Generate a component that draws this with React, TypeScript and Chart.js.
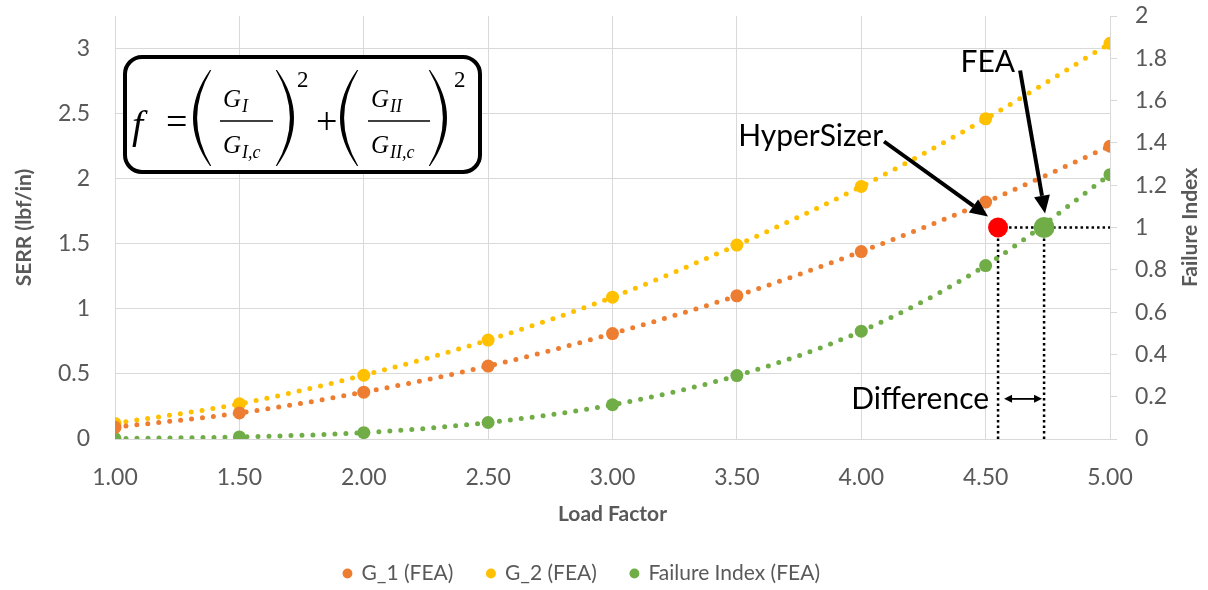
import React, { useEffect, useRef } from 'react';
import { Chart, registerables } from 'chart.js';

Chart.register(...registerables);

// ---- data ----
const loadFactor = [1.0, 1.5, 2.0, 2.5, 3.0, 3.5, 4.0, 4.5, 5.0];
const g1Values = [0.09, 0.2, 0.36, 0.56, 0.81, 1.1, 1.44, 1.82, 2.25];
const g2Values = [0.12, 0.27, 0.49, 0.76, 1.09, 1.49, 1.94, 2.46, 3.04];
const failureValues = [0.002, 0.01, 0.03, 0.078, 0.162, 0.3, 0.51, 0.82, 1.25];
const seriesLabels = ['G_1 (FEA)', 'G_2 (FEA)', 'Failure Index (FEA)'];
const leftTickValues = [0, 0.5, 1, 1.5, 2, 2.5, 3];
const hyperSizerPoint = { x: 4.55, y: 1.0 };
const feaPoint = { x: 4.735, y: 1.0 };
const differenceLevel = 0.19;

const ORANGE = '#ED7D31';
const YELLOW = '#FFC000';
const GREEN = '#70AD47';
const GRAY_TEXT = '#595959';
const GRID = '#D9D9D9';
const FONT = 'Lato';

const pairs = (xs: number[], ys: number[]) => xs.map((x, i) => ({ x, y: ys[i] }));

function arrow(ctx: CanvasRenderingContext2D, x1: number, y1: number, x2: number, y2: number, lw: number, headLen: number, headW: number) {
  const ang = Math.atan2(y2 - y1, x2 - x1);
  const bx = x2 - headLen * Math.cos(ang);
  const by = y2 - headLen * Math.sin(ang);
  ctx.lineWidth = lw;
  ctx.beginPath();
  ctx.moveTo(x1, y1);
  ctx.lineTo(bx, by);
  ctx.stroke();
  ctx.beginPath();
  ctx.moveTo(x2, y2);
  ctx.lineTo(bx + headW * Math.sin(ang), by - headW * Math.cos(ang));
  ctx.lineTo(bx - headW * Math.sin(ang), by + headW * Math.cos(ang));
  ctx.closePath();
  ctx.fill();
}

function paren(ctx: CanvasRenderingContext2D, x0: number, top: number, bot: number, extreme: number) {
  const mid = (top + bot) / 2;
  const cOuter = 2 * extreme - x0;
  const dir = extreme < x0 ? 1 : -1;
  const cInner = cOuter + dir * 7;
  ctx.beginPath();
  ctx.moveTo(x0, top);
  ctx.quadraticCurveTo(cOuter, mid, x0, bot);
  ctx.lineTo(x0 + dir * 1.2, bot);
  ctx.quadraticCurveTo(cInner, mid, x0 + dir * 1.2, top);
  ctx.closePath();
  ctx.fill();
}

function roundRect(ctx: CanvasRenderingContext2D, x: number, y: number, w: number, h: number, r: number) {
  ctx.beginPath();
  ctx.moveTo(x + r, y);
  ctx.lineTo(x + w - r, y);
  ctx.arcTo(x + w, y, x + w, y + r, r);
  ctx.lineTo(x + w, y + h - r);
  ctx.arcTo(x + w, y + h, x + w - r, y + h, r);
  ctx.lineTo(x + r, y + h);
  ctx.arcTo(x, y + h, x, y + h - r, r);
  ctx.lineTo(x, y + r);
  ctx.arcTo(x, y, x + r, y, r);
  ctx.closePath();
}

function drawFormula(ctx: CanvasRenderingContext2D, bx: number, by: number) {
  ctx.save();
  roundRect(ctx, bx, by, 355, 115, 17);
  ctx.fillStyle = '#fff';
  ctx.fill();
  ctx.lineWidth = 4;
  ctx.strokeStyle = '#000';
  ctx.stroke();

  const X = (v: number) => bx + v - 125;
  const Y = (v: number) => by + v - 57;
  ctx.fillStyle = '#000';
  ctx.textAlign = 'left';
  ctx.textBaseline = 'alphabetic';
  const serif = '"Liberation Serif", "DejaVu Serif", serif';

  ctx.font = `italic 40px ${serif}`;
  ctx.fillText('f', X(132), Y(138));
  ctx.font = `38px ${serif}`;
  ctx.fillText('=', X(166), Y(134));
  ctx.fillText('+', X(316), Y(134));

  paren(ctx, X(210), Y(70), Y(166), X(193));
  paren(ctx, X(277), Y(70), Y(166), X(294));
  paren(ctx, X(357), Y(70), Y(166), X(340));
  paren(ctx, X(430), Y(70), Y(166), X(447));

  ctx.lineWidth = 1.6;
  ctx.beginPath();
  ctx.moveTo(X(220), Y(121));
  ctx.lineTo(X(273), Y(121));
  ctx.moveTo(X(368), Y(121));
  ctx.lineTo(X(430), Y(121));
  ctx.stroke();

  const big = `italic 25px ${serif}`;
  const sub = `italic 18px ${serif}`;
  const gsub = (gx: number, gy: number, s: string, sy: number) => {
    ctx.font = big;
    ctx.fillText('G', X(gx), Y(gy));
    const w = ctx.measureText('G').width;
    ctx.font = sub;
    ctx.fillText(s, X(gx) + w + 1, Y(sy));
  };
  gsub(223, 107, 'I', 112);
  gsub(223, 153, 'I,c', 158);
  gsub(371, 107, 'II', 112);
  gsub(371, 153, 'II,c', 158);

  ctx.font = `23px ${serif}`;
  ctx.fillText('2', X(297), Y(87));
  ctx.fillText('2', X(454), Y(87));
  ctx.restore();
}

const annotationPlugin = {
  id: 'annotations',
  afterLayout(chart: any) {
    if (chart.legend) {
      chart.legend.left -= 22;
      chart.legend.right -= 22;
    }
  },
  afterDatasetsDraw(chart: any) {
    const ctx: CanvasRenderingContext2D = chart.ctx;
    const xs = chart.scales.x;
    const y1 = chart.scales.y1;
    const hx = xs.getPixelForValue(hyperSizerPoint.x);
    const hy = y1.getPixelForValue(hyperSizerPoint.y);
    const fx = xs.getPixelForValue(feaPoint.x);
    const fy = y1.getPixelForValue(feaPoint.y);
    ctx.save();
    ctx.fillStyle = '#000';
    ctx.strokeStyle = '#000';
    ctx.lineCap = 'butt';
    arrow(ctx, hx - 114, hy - 86, hx - 10, hy - 11, 4, 18, 8);
    arrow(ctx, fx - 24, fy - 157, fx + 1, fy - 14, 4, 18, 8);
    ctx.font = `30px ${FONT}`;
    ctx.textAlign = 'right';
    ctx.textBaseline = 'alphabetic';
    ctx.fillText('HyperSizer', hx - 115, hy - 82);
    ctx.fillText('FEA', fx - 29, fy - 156);
    const dy = y1.getPixelForValue(differenceLevel);
    arrow(ctx, hx + 12, dy, fx - 2, dy, 1.5, 8, 4);
    arrow(ctx, fx - 6, dy, hx + 6, dy, 1.5, 8, 4);
    ctx.textBaseline = 'middle';
    ctx.fillText('Difference', hx - 9, dy + 1);
    ctx.restore();
  },
  afterDraw(chart: any) {
    const ctx: CanvasRenderingContext2D = chart.ctx;
    const area = chart.chartArea;
    drawFormula(ctx, area.left + 10, area.top + 41);
    const y1 = chart.scales.y1;
    ctx.save();
    ctx.translate(y1.right - 18, (area.top + area.bottom) / 2);
    ctx.rotate(-Math.PI / 2);
    ctx.font = `bold 21px ${FONT}`;
    ctx.fillStyle = GRAY_TEXT;
    ctx.textAlign = 'center';
    ctx.textBaseline = 'middle';
    ctx.fillText('Failure Index', 0, 0);
    ctx.restore();
  },
};

const seriesDataset = (label: string, ys: number[], color: string, axis: string) => ({
  label,
  data: pairs(loadFactor, ys),
  yAxisID: axis,
  showLine: true,
  borderColor: color,
  backgroundColor: color,
  borderWidth: 5,
  borderDash: [0, 11],
  borderCapStyle: 'round' as const,
  cubicInterpolationMode: 'monotone' as const,
  pointRadius: 6.5,
  pointBorderWidth: 0,
  pointBackgroundColor: color,
  pointStyle: 'circle' as const,
  order: 5,
});

const guide = (pts: { x: number; y: number }[]) => ({
  label: 'guide',
  data: pts,
  yAxisID: 'y1',
  showLine: true,
  borderColor: '#000',
  backgroundColor: '#000',
  borderWidth: 2.5,
  borderDash: [2.5, 3],
  pointRadius: 0,
  order: 10,
});

const zeroPad = (s: any) => {
  s.paddingTop = 0;
  s.paddingBottom = 0;
  s.paddingLeft = 0;
  s.paddingRight = 0;
};

export default function App() {
  const ref = useRef<HTMLCanvasElement>(null);
  useEffect(() => {
    const chart = new Chart(ref.current as HTMLCanvasElement, {
      type: 'scatter',
      data: {
        datasets: [
          seriesDataset(seriesLabels[0], g1Values, ORANGE, 'y'),
          seriesDataset(seriesLabels[1], g2Values, YELLOW, 'y'),
          seriesDataset(seriesLabels[2], failureValues, GREEN, 'y1'),
          {
            label: 'HyperSizer',
            data: [hyperSizerPoint],
            yAxisID: 'y1',
            backgroundColor: '#FF0000',
            pointBackgroundColor: '#FF0000',
            pointRadius: 10,
            pointBorderWidth: 0,
            order: 1,
          } as any,
          {
            label: 'FEA',
            data: [feaPoint],
            yAxisID: 'y1',
            backgroundColor: GREEN,
            pointBackgroundColor: GREEN,
            pointRadius: 10.5,
            pointBorderWidth: 0,
            order: 1,
          } as any,
          guide([hyperSizerPoint, { x: 5, y: hyperSizerPoint.y }]),
          guide([{ x: hyperSizerPoint.x, y: 0 }, hyperSizerPoint]),
          guide([{ x: feaPoint.x, y: 0 }, feaPoint]),
        ],
      },
      options: {
        responsive: false,
        animation: false,
        devicePixelRatio: 1,
        layout: { padding: { top: 16, left: 0, right: 0, bottom: -4 } },
        plugins: {
          tooltip: { enabled: false },
          legend: {
            position: 'bottom',
            labels: {
              usePointStyle: true,
              pointStyle: 'circle',
              boxHeight: 7,
              boxWidth: 7,
              padding: 34,
              color: GRAY_TEXT,
              font: { family: FONT, size: 21 },
              generateLabels: (c: any) =>
                Chart.defaults.plugins.legend.labels
                  .generateLabels(c)
                  .filter((l: any) => l.datasetIndex < 3)
                  .map((l: any) => ({ ...l, lineWidth: 0, lineDash: [], fontColor: GRAY_TEXT })),
            },
          },
        },
        scales: {
          x: {
            type: 'linear',
            min: loadFactor[0],
            max: loadFactor[loadFactor.length - 1],
            grid: { color: GRID, lineWidth: 1, drawTicks: false },
            border: { color: GRID },
            ticks: {
              stepSize: 0.5,
              padding: 25,
              color: GRAY_TEXT,
              font: { family: FONT, size: 23 },
              callback: (v: any) => Number(v).toFixed(2),
            },
            title: {
              display: true,
              text: 'Load Factor',
              color: GRAY_TEXT,
              font: { family: FONT, size: 21, weight: 'bold' },
              padding: { top: 0, bottom: 2 },
            },
            afterFit: (s: any) => {
              s.height = 90;
              zeroPad(s);
            },
          },
          y: {
            type: 'linear',
            position: 'left',
            min: 0,
            max: 3.25,
            afterBuildTicks: (s: any) => {
              s.ticks = leftTickValues.map((v) => ({ value: v }));
            },
            grid: { color: GRID, lineWidth: 1, drawTicks: false },
            border: { color: GRID },
            ticks: {
              padding: 25,
              color: GRAY_TEXT,
              font: { family: FONT, size: 23 },
              callback: (v: any) => String(v),
            },
            title: {
              display: true,
              text: 'SERR (lbf/in)',
              color: GRAY_TEXT,
              font: { family: FONT, size: 21, weight: 'bold' },
              padding: { top: 12, bottom: 0 },
            },
            afterFit: (s: any) => {
              s.width = 115;
              zeroPad(s);
            },
          },
          y1: {
            type: 'linear',
            position: 'right',
            min: 0,
            max: 2,
            grid: { drawOnChartArea: false, color: GRID, tickLength: 7 },
            border: { color: GRID },
            ticks: {
              stepSize: 0.2,
              padding: 18,
              color: GRAY_TEXT,
              font: { family: FONT, size: 23 },
              callback: (v: any) => String(Number(Number(v).toFixed(1))),
            },
            afterFit: (s: any) => {
              s.width = 98;
              zeroPad(s);
            },
          },
        },
      },
      plugins: [annotationPlugin],
    } as any);
    return () => chart.destroy();
  }, []);
  return (
    <div style={{ position: 'fixed', left: 0, top: 0, width: 1208, height: 590, background: '#fff' }}>
      <canvas ref={ref} width={1208} height={590} style={{ display: 'block' }} />
    </div>
  );
}
